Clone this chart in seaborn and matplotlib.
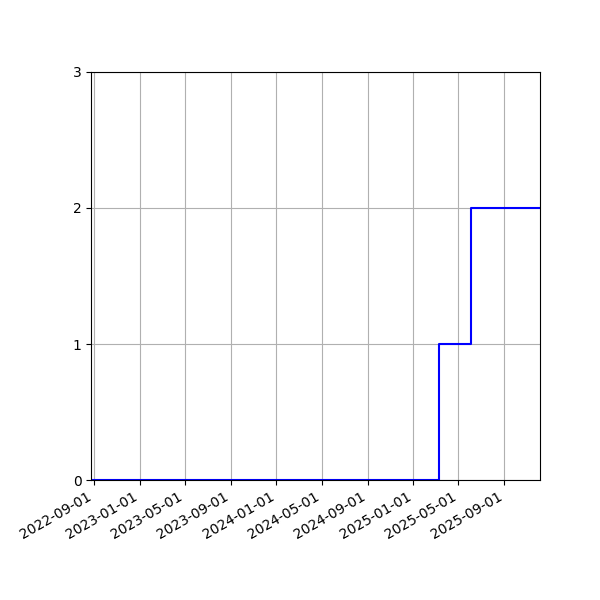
import pandas as pd
import seaborn as sns
import matplotlib
matplotlib.use('Agg')
import matplotlib.pyplot as plt
import matplotlib.dates as mdates

# cumulative count over time (step chart)
dates = ['2022-08-24', '2025-03-10', '2025-06-04', '2025-12-05']
counts = [0, 1, 2, 2]

df = pd.DataFrame({'date': pd.to_datetime(dates), 'count': counts})

sns.set_style('white')
plt.rcParams['font.family'] = ['DejaVu Sans']

fig = plt.figure(figsize=(6, 6), dpi=100)
ax = fig.add_axes([0.152, 0.2, 0.748, 0.68])
sns.lineplot(data=df, x='date', y='count', ax=ax, color='blue',
             drawstyle='steps-post', estimator=None, linewidth=1.5)

ax.set_xlim(df['date'].min(), df['date'].max())
ax.set_ylim(0, 3)
ax.set_yticks([0, 1, 2, 3])
ax.xaxis.set_major_locator(mdates.MonthLocator(bymonth=[1, 5, 9]))
ax.xaxis.set_major_formatter(mdates.DateFormatter('%Y-%m-%d'))
ax.set_xlabel('')
ax.set_ylabel('')
ax.grid(True, color='#b0b0b0', linewidth=0.8)
ax.tick_params(axis='both', direction='out', length=3.5, width=0.8, colors='black', bottom=True, left=True)
for s in ax.spines.values():
    s.set_color('black')
    s.set_linewidth(0.8)
plt.setp(ax.get_xticklabels(), rotation=30, ha='right')

fig.savefig('out.png', dpi=100)
